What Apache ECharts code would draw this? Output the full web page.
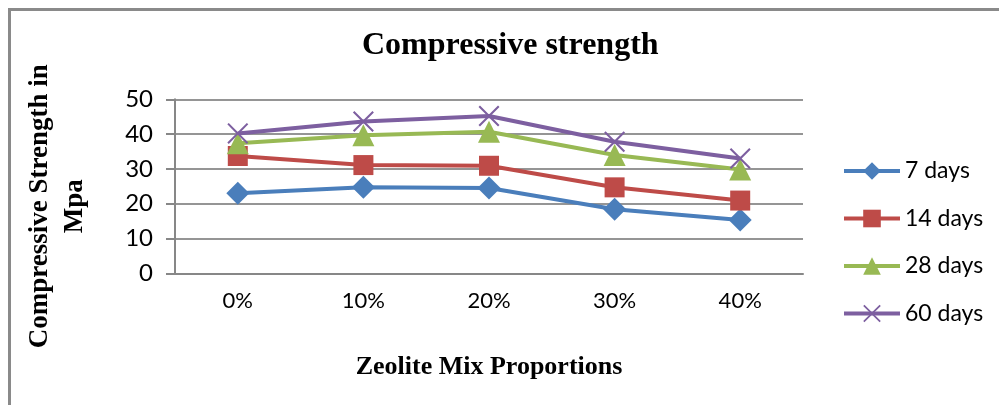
<!DOCTYPE html>
<html>
<head>
<meta charset="utf-8">
<script src="https://cdn.jsdelivr.net/npm/echarts@6/dist/echarts.min.js"></script>
<style>
  html, body { margin: 0; padding: 0; background: #fff; }
  #chart { width: 999px; height: 405px; }
</style>
</head>
<body>
<div id="chart"></div>
<script>
// data
var categories = ['0%', '10%', '20%', '30%', '40%'];
var days7  = [23.0, 24.7, 24.5, 18.4, 15.3];
var days14 = [33.7, 31.1, 30.9, 24.7, 20.9];
var days28 = [37.4, 39.7, 40.7, 34.0, 29.8];
var days60 = [40.2, 43.6, 45.2, 37.8, 33.0];
var seriesNames = ['7 days', '14 days', '28 days', '60 days'];
var yTicks = [0, 10, 20, 30, 40, 50];

var serifFont = '"Liberation Serif", "DejaVu Serif", serif';
var sansFont = 'Lato, "Liberation Sans", sans-serif';
var gray = '#878787';

// X shaped marker, filled so it scales like the other symbols
var crossPath = 'path://M0,0.7L0.7,0L5,4.3L9.3,0L10,0.7L5.7,5L10,9.3L9.3,10L5,5.7L0.7,10L0,9.3L4.3,5Z';

function lineSeries(name, data, color, symbol, size) {
  return {
    name: name,
    type: 'line',
    data: data,
    symbol: symbol,
    symbolSize: size,
    showAllSymbol: true,
    lineStyle: { color: color, width: 4 },
    itemStyle: { color: color },
    emphasis: { disabled: true },
    z: 3
  };
}

var myChart = echarts.init(document.getElementById('chart'));
var option = {
  animation: false,
  backgroundColor: '#ffffff',
  title: {
    text: 'Compressive strength',
    left: 362,
    top: 30,
    padding: 0,
    textStyle: { fontFamily: serifFont, fontWeight: 'bold', fontSize: 32, color: '#000' }
  },
  graphic: [
    {
      type: 'polyline',
      shape: { points: [[9.5, 405], [9.5, 9.5], [999, 9.5]] },
      style: { stroke: '#8a8a8a', lineWidth: 3, fill: null },
      silent: true
    }
  ],
  legend: {
    orient: 'vertical',
    left: 842,
    top: 159,
    padding: 0,
    itemWidth: 56,
    itemHeight: 22,
    itemGap: 23.5,
    lineStyle: { width: 4 },
    textStyle: { fontFamily: sansFont, fontSize: 23, color: '#000', lineHeight: 24 },
    data: seriesNames
  },
  grid: { left: 175, right: 196, top: 99.3, bottom: 131.7 },
  xAxis: {
    type: 'category',
    data: categories,
    boundaryGap: true,
    axisLine: { lineStyle: { color: gray, width: 2 } },
    axisTick: { show: false },
    axisLabel: { fontFamily: sansFont, fontSize: 22, color: '#000', margin: 17 },
    name: 'Zeolite Mix Proportions',
    nameLocation: 'middle',
    nameGap: 81,
    nameTextStyle: { fontFamily: serifFont, fontWeight: 'bold', fontSize: 26, color: '#000' }
  },
  yAxis: {
    type: 'value',
    min: yTicks[0],
    max: yTicks[yTicks.length - 1],
    interval: yTicks[1] - yTicks[0],
    axisLine: { show: true, lineStyle: { color: gray, width: 2 } },
    axisTick: { show: true, length: 9, lineStyle: { color: gray, width: 2 } },
    axisLabel: { fontFamily: sansFont, fontSize: 24, color: '#000', margin: 22 },
    splitLine: { lineStyle: { color: '#959595', width: 2 } },
    name: 'Compressive Strength in\nMpa',
    nameLocation: 'middle',
    nameGap: 82,
    nameTextStyle: {
      fontFamily: serifFont, fontWeight: 'bold', fontSize: 27, color: '#000',
      lineHeight: 35, align: 'center', padding: [0, 40, 0, 0]
    }
  },
  series: [
    lineSeries(seriesNames[0], days7, '#4a7ebb', 'diamond', 23),
    lineSeries(seriesNames[1], days14, '#be4b48', 'rect', 20),
    lineSeries(seriesNames[2], days28, '#98b954', 'triangle', 22),
    lineSeries(seriesNames[3], days60, '#7d5fa0', crossPath, 21)
  ]
};
myChart.setOption(option);
</script>
</body>
</html>
